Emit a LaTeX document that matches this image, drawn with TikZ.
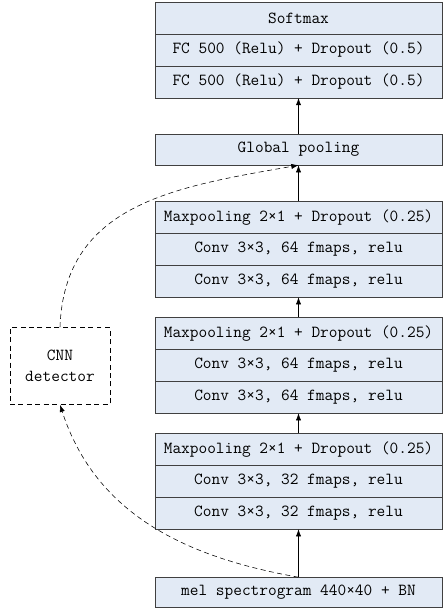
\documentclass[tikz,border=0pt]{standalone}
\usepackage{fontspec}
\usetikzlibrary{positioning, arrows.meta}
\definecolor{layerblue}{RGB}{226,234,245}

\begin{document}
\begin{tikzpicture}[
    layer/.style={draw=black!75, line width=0.6pt, fill=layerblue, minimum width=7.175cm, minimum height=0.8cm, inner sep=0pt, outer sep=0pt, font=\ttfamily\fontsize{12}{14}\selectfont},
    flow/.style={-{Latex[length=1.8mm,width=1.3mm]}},
    skip/.style={dash pattern=on 3.5pt off 2.5pt, -{Latex[length=1.8mm,width=1.3mm]}},
    node distance=0pt]
  \useasboundingbox (0,0) rectangle (11.075,-15.25);
  % classifier head
  \node[layer] (sm) at (7.4625,-0.45) {Softmax};
  \node[layer, below=of sm] (fcA) {FC 500 (Relu) + Dropout (0.5)};
  \node[layer, below=of fcA] (fcB) {FC 500 (Relu) + Dropout (0.5)};
  \node[layer, minimum height=0.78cm, below=0.9cm of fcB] (gp) {Global pooling};
  % conv blocks, top to bottom
  \node[layer, below=0.9cm of gp] (mpC) {Maxpooling 2×1 + Dropout (0.25)};
  \node[layer, below=of mpC] (cvC1) {Conv 3×3, 64 fmaps, relu};
  \node[layer, below=of cvC1] (cvC2) {Conv 3×3, 64 fmaps, relu};
  \node[layer, below=0.5cm of cvC2] (mpB) {Maxpooling 2×1 + Dropout (0.25)};
  \node[layer, below=of mpB] (cvB1) {Conv 3×3, 64 fmaps, relu};
  \node[layer, below=of cvB1] (cvB2) {Conv 3×3, 64 fmaps, relu};
  \node[layer, below=0.5cm of cvB2] (mpA) {Maxpooling 2×1 + Dropout (0.25)};
  \node[layer, below=of mpA] (cvA1) {Conv 3×3, 32 fmaps, relu};
  \node[layer, below=of cvA1] (cvA2) {Conv 3×3, 32 fmaps, relu};
  \node[layer, minimum height=0.75cm, below=1.2cm of cvA2] (mel) {mel spectrogram 440×40 + BN};
  % side detector
  \node[draw, dash pattern=on 3.5pt off 2.5pt, minimum width=2.5cm, minimum height=1.925cm, align=center,
        font=\ttfamily\fontsize{12}{15}\selectfont] (det) at (1.5,-9.15) {CNN\\detector};

  \draw[flow] (mel.north) -- (cvA2.south);
  \draw[flow] (mpA.north) -- (cvB2.south);
  \draw[flow] (mpB.north) -- (cvC2.south);
  \draw[flow] (mpC.north) -- (gp.south);
  \draw[flow] (gp.north) -- (fcB.south);

  \draw[skip] (mel.north) to[out=170, in=-72] (det.south);
  \draw[skip] (det.north) to[out=88, in=190, looseness=1.1] (gp.south);
\end{tikzpicture}
\end{document}
